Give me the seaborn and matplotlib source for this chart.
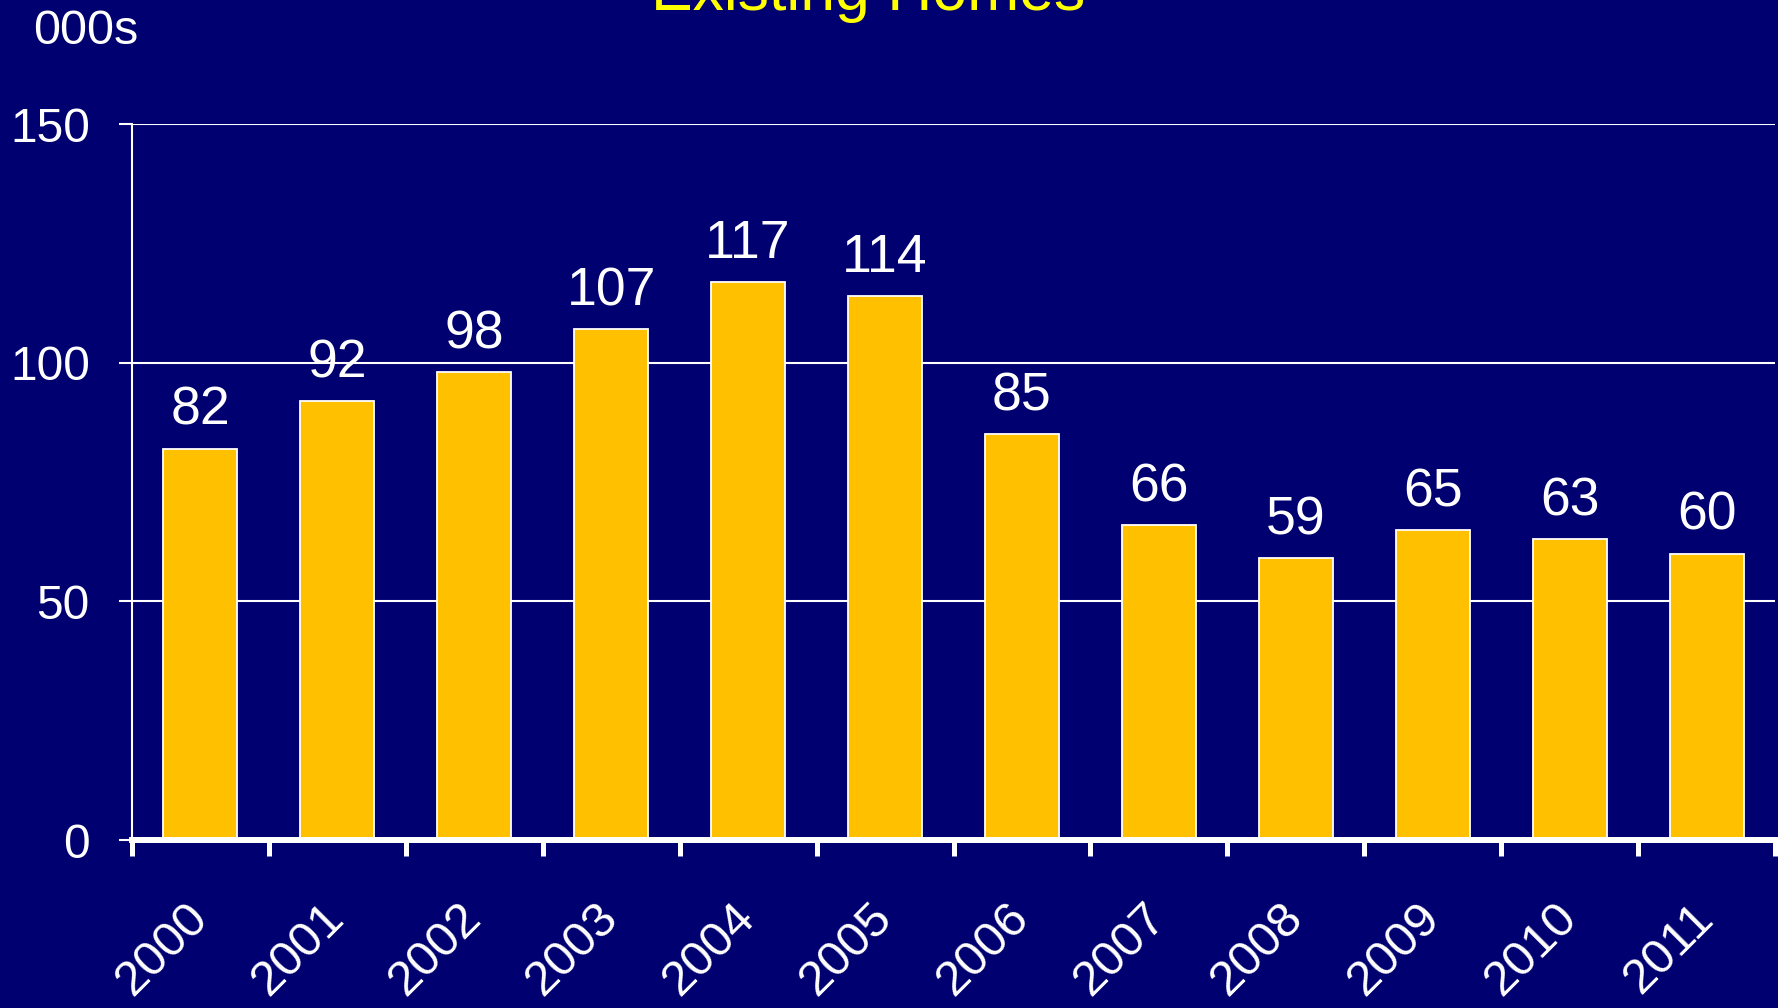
import matplotlib
matplotlib.use("Agg")
import matplotlib.pyplot as plt
import seaborn as sns
import pandas as pd
from matplotlib.ticker import FixedLocator

years = ["2000", "2001", "2002", "2003", "2004", "2005", "2006", "2007", "2008", "2009", "2010", "2011"]
values = [82, 92, 98, 107, 117, 114, 85, 66, 59, 65, 63, 60]
title = "Existing Homes"
unit_label = "000s"
y_ticks = [0, 50, 100, 150]

BG = "#000070"
BAR = "#FFC000"

sns.set_theme(style="dark")
plt.rcParams["font.family"] = ["Liberation Sans", "DejaVu Sans"]

df = pd.DataFrame({"year": years, "value": values})

fig = plt.figure(figsize=(17.78, 10.08), dpi=100, facecolor=BG)
ax = fig.add_axes([132 / 1778, 1 - 840 / 1008, (1775 - 132) / 1778, (840 - 124) / 1008])
ax.set_facecolor(BG)

sns.barplot(data=df, x="year", y="value", color=BAR, width=0.54,
            edgecolor="white", linewidth=1.3, saturation=1, ax=ax, zorder=3)

ax.set_xlim(-0.5, len(years) - 0.5)
ax.set_ylim(0, 150)
ax.set_yticks(y_ticks)
ax.set_yticklabels([str(t) for t in y_ticks])
ax.set_xlabel("")
ax.set_ylabel("")

ax.grid(False)
ax.yaxis.grid(True, color="white", linewidth=1.5, zorder=0)
ax.set_axisbelow(True)

for s in ["top", "right"]:
    ax.spines[s].set_visible(False)
ax.spines["left"].set_color("white")
ax.spines["left"].set_linewidth(1.5)
ax.spines["bottom"].set_color("white")
ax.spines["bottom"].set_linewidth(4.3)
ax.spines["bottom"].set_zorder(5)

ax.tick_params(axis="y", which="major", direction="out", length=9.4, width=1.5,
               color="white", labelcolor="white", labelsize=34.5, pad=21, left=True)
ax.xaxis.set_minor_locator(FixedLocator([i - 0.5 for i in range(len(years) + 1)]))
ax.tick_params(axis="x", which="minor", direction="out", length=11.5, width=3.6,
               color="white", bottom=True)
ax.tick_params(axis="x", which="major", length=0, labelcolor="white", labelsize=35.5, pad=51)
for lab in ax.get_xticklabels():
    lab.set_rotation(45)
    lab.set_ha("right")
    lab.set_va("center")
    lab.set_rotation_mode("anchor")

for i, v in enumerate(values):
    ax.annotate(str(v), xy=(i, v), xytext=(0, 17), textcoords="offset points",
                ha="center", va="baseline", color="white", fontsize=38.5, zorder=6)

fig.text(868 / 1778, 1 - 10 / 1008, title, color="#FFFF00", fontsize=45,
         ha="center", va="baseline")
fig.text(33 / 1778, 1 - 44 / 1008, unit_label, color="white", fontsize=35,
         ha="left", va="baseline")

fig.savefig("out.png", dpi=100, facecolor=BG)
